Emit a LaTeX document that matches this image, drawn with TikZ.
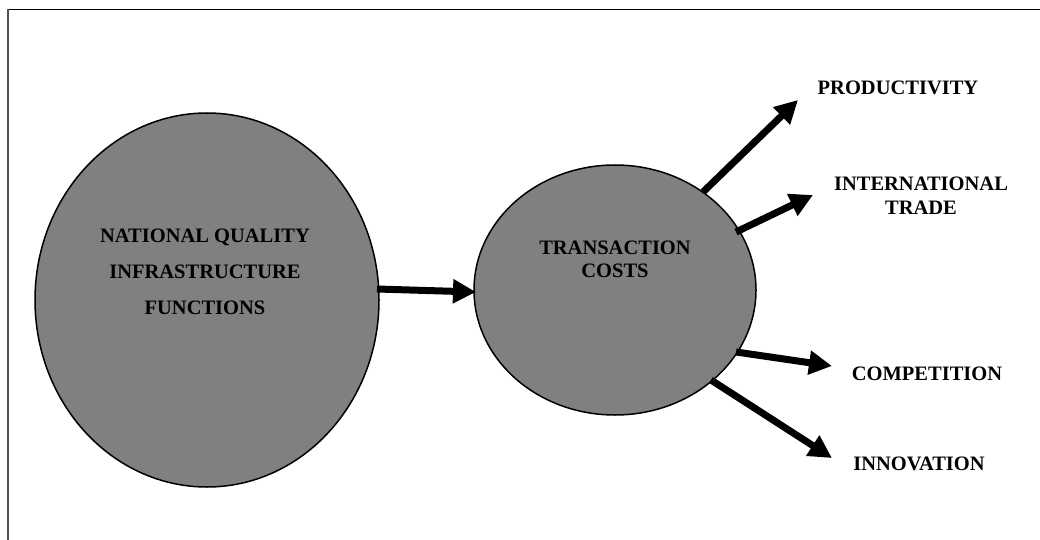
\documentclass[tikz,border=0pt]{standalone}
\usepackage{fontspec}
\setmainfont{Liberation Serif}
\usetikzlibrary{arrows.meta,shapes.geometric}
\definecolor{fillgray}{HTML}{808080}
\definecolor{framegray}{HTML}{505050}
\tikzset{
  blob/.style={ellipse, draw=black, line width=1.5pt, fill=fillgray, inner sep=0pt},
  arr/.style={line width=7pt, -{Triangle[length=23pt,width=23pt]}},
  lbl/.style={font=\bfseries\fontsize{20.5}{24}\selectfont, align=center, inner sep=0pt},
}
\begin{document}
\begin{tikzpicture}[x=1pt,y=-1pt]
\useasboundingbox (0,0) rectangle (1040,540);
% frame
\draw[black, line width=1.3pt] (8,9.5) -- (1040,9.5);
\draw[framegray, line width=1.5pt] (8,9.5) -- (8,540);
% ellipses
\node[blob, minimum width=344pt, minimum height=374pt] (nqi) at (207,300) {};
\node[blob, minimum width=282pt, minimum height=250pt] (tc) at (615,290) {};
% ellipse texts
\node[lbl, font=\bfseries\fontsize{20.5}{36}\selectfont] (nqit) at (205,272) {NATIONAL QUALITY\\INFRASTRUCTURE\\FUNCTIONS};
\node[lbl, font=\bfseries\fontsize{20.5}{23}\selectfont] (tct) at (615,259) {TRANSACTION\\COSTS};
% labels
\node[lbl] (prod) at (898,88) {PRODUCTIVITY};
\node[lbl] (trade) at (921,196) {INTERNATIONAL\\TRADE};
\node[lbl] (comp) at (927,374) {COMPETITION};
\node[lbl] (inno) at (919,464) {INNOVATION};
% arrow end points
\coordinate (a0) at (377,289);
\coordinate (b0) at (476,292);
\coordinate (a1) at (703,192);
\coordinate (b1) at (798,100);
\coordinate (a2) at (736,232);
\coordinate (b2) at (813,195);
\coordinate (a3) at (736,352);
\coordinate (b3) at (832,366);
\coordinate (a4) at (711,380);
\coordinate (b4) at (832,458);
\draw[arr] (a0) -- (b0);
\draw[arr] (a1) -- (b1);
\draw[arr] (a2) -- (b2);
\draw[arr] (a3) -- (b3);
\draw[arr] (a4) -- (b4);
\end{tikzpicture}
\end{document}
